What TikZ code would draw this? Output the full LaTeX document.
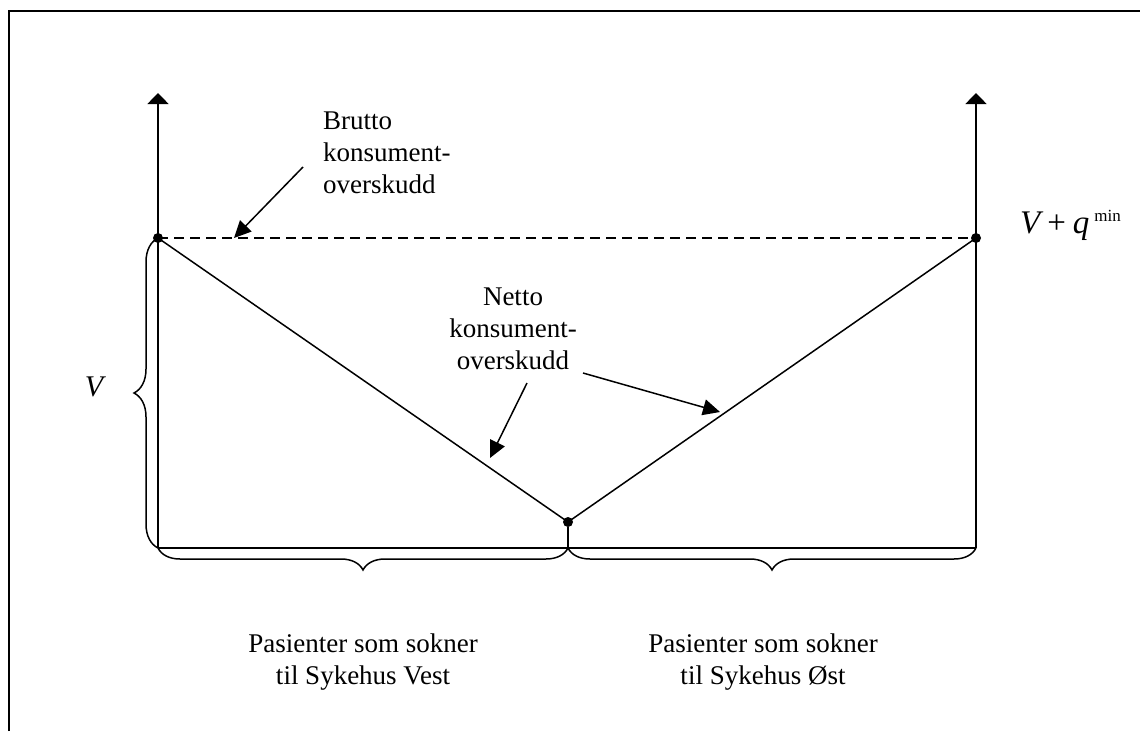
\documentclass[tikz,border=0pt]{standalone}
\usepackage{fontspec}
\setmainfont{Liberation Serif}
\usetikzlibrary{arrows.meta,decorations.pathreplacing}
\begin{document}
\begin{tikzpicture}[x=1pt,y=-1pt,
  line/.style={line width=1.5pt},
  dot/.style={circle,fill,inner sep=0pt,minimum size=10pt},
  lbl/.style={font=\fontsize{27}{32}\selectfont,inner sep=0pt},
  callout/.style={line width=1.5pt,-{Triangle[length=17pt,width=16pt]}},
  axis/.style={line width=1.5pt,-{Triangle[length=11pt,width=21pt]}},
  brc/.style={decorate,decoration={brace,amplitude=#1},line width=1.5pt}]
\useasboundingbox (0,0) rectangle (1140,731);
% frame
\draw[line width=2pt] (9,731) -- (9,11) -- (1140,11);
% coordinates
\coordinate (lb) at (158,548);
\coordinate (lt) at (158,93);
\coordinate (rb) at (976,548);
\coordinate (rt) at (976,93);
\coordinate (mb) at (568,548);
% dots
\node[dot] (A) at (158,238) {};
\node[dot] (B) at (976,238) {};
\node[dot] (C) at (568,522) {};
% axes
\draw[axis] (lb) -- (lt);
\draw[axis] (rb) -- (rt);
\draw[line] (lb) -- (rb);
\draw[line] (C) -- (mb);
% lines
\draw[line,dash pattern=on 10pt off 6pt] (A.center) -- (B.center);
\draw[line] (A.center) -- (C.center) -- (B.center);
% braces
\draw[brc=24pt] (lb) -- (A.center);
\draw[brc=22pt] (mb) -- (lb);
\draw[brc=22pt] (rb) -- (mb);
% labels
\node[lbl,align=left,anchor=west] (brutto) at (323,153) {Brutto\\konsument-\\overskudd};
\node[lbl,align=center] (netto) at (513,329) {Netto\\konsument-\\overskudd};
\node[lbl,align=center] (vest) at (363,662) {Pasienter som sokner\\til Sykehus Vest};
\node[lbl,align=center] (ost) at (763,662) {Pasienter som sokner\\til Sykehus Øst};
\node[inner sep=0pt,anchor=base,font=\fontsize{30}{34}\selectfont\itshape] (Vl) at (94,396) {V};
\node[inner sep=0pt,anchor=base west,font=\fontsize{33}{36}\selectfont] (Vq) at (1020,233)
  {\itshape V\upshape\kern7pt+\kern7pt\itshape q\upshape\kern5pt\raisebox{12pt}{\fontsize{17}{20}\selectfont min}};
% callout arrows
\coordinate (b1) at (303,167);
\coordinate (b2) at (234,238);
\draw[callout] (b1) -- (b2);
\coordinate (n1) at (527,383);
\coordinate (n2) at (490,458);
\draw[callout] (n1) -- (n2);
\coordinate (n3) at (583,373);
\coordinate (n4) at (720,412);
\draw[callout] (n3) -- (n4);
\end{tikzpicture}
\end{document}
